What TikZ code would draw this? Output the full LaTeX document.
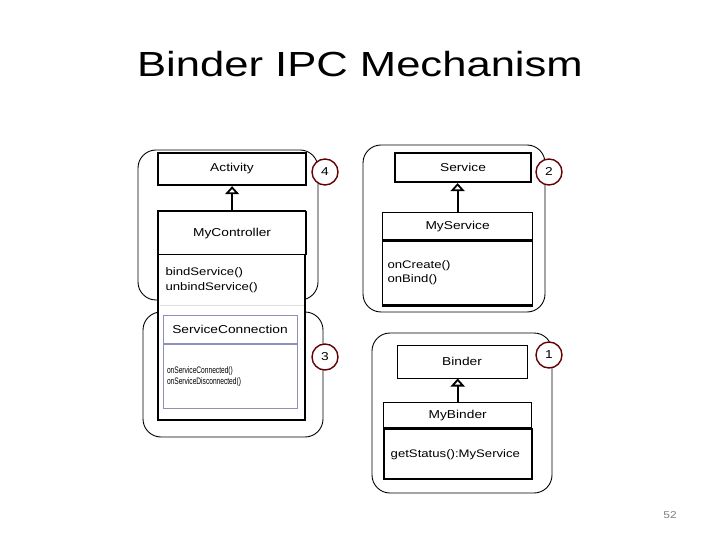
\documentclass[tikz,border=0pt]{standalone}
\usepackage{fontspec}
\setmainfont{Liberation Sans}[FakeStretch=1.2]
\newfontfamily\titlefont{Liberation Sans}[FakeStretch=1.25]
\newfontfamily\narrowfont{Liberation Sans}[FakeStretch=0.7]
\usetikzlibrary{arrows.meta,positioning}

\begin{document}
\begin{tikzpicture}[x=1bp, y=-1bp,
    group/.style={draw, line width=0.9pt, rounded corners=18bp},
    cls/.style={draw, fill=white, inner sep=0pt, font=\fontsize{11.5}{13}\selectfont},
    ops/.style={draw, fill=white, inner xsep=7bp, align=left, font=\fontsize{11}{15}\selectfont},
    num/.style={circle, draw=red!40!black, line width=1.4pt, fill=white, minimum size=26bp,
        inner sep=0pt, font=\fontsize{11.5}{13}\selectfont},
    inherit/.style={-{Triangle[open, width=14bp, length=8bp]}, line width=1.8pt}]
    \useasboundingbox (0,0) rectangle (720,540);

    % title
    \node[anchor=base, font=\titlefont\fontsize{35}{40}\selectfont] (title) at (360,77) {Binder IPC Mechanism};

    % groups
    \draw[group] (138,150) rectangle (318,300);
    \draw[group] (143,312) rectangle (323,437);
    \draw[group] (363,145) rectangle (545,312);
    \draw[group] (372,333) rectangle (552,493);

    % left: Activity / MyController / ServiceConnection
    \node[cls, line width=2.4pt, minimum width=148bp, minimum height=32bp] (activity) at (232,169) {Activity};
    \coordinate (ctrlbottom) at (231,420);
    \draw[line width=2.4pt, fill=white] (158,211) rectangle (ctrlbottom -| 305,0);
    \node[cls, line width=1.2pt, minimum width=147bp, minimum height=43bp, anchor=north west] (myctrl) at (158,211) {MyController};
    \node[ops, draw=none, fill=none, text width=133bp, minimum height=50bp, anchor=north] (myctrlops) at (myctrl.south) {bindService()\\unbindService()};
    \draw[gray!25, line width=1pt] ([xshift=1.5bp]myctrlops.south west) -- ([xshift=-1.5bp]myctrlops.south east);
    \draw[line width=2.4pt] (myctrl.north west) -- (myctrl.south west) (myctrl.north east) -- (myctrl.south east);
    \draw[inherit] (myctrl.north) -- (myctrl.north |- activity.south);

    \node[cls, draw=blue!25!gray!70, line width=1pt, minimum width=134bp, minimum height=28bp, anchor=north] (svcconn) at (230,315) {ServiceConnection};
    \node[ops, draw=blue!25!gray!70, line width=1pt, inner xsep=4bp, text width=126bp, minimum height=64bp, anchor=north,
        font=\narrowfont\fontsize{9.5}{11.5}\selectfont] (svcconnops) at (svcconn.south) {onServiceConnected()\\onServiceDisconnected()};

    % right: Service / MyService
    \node[cls, line width=2.2pt, minimum width=136bp, minimum height=29bp] (service) at (463,167.5) {Service};
    \node[cls, line width=1.2pt, minimum width=150bp, minimum height=27bp, anchor=north west] (myservice) at (382,212) {MyService};
    \node[ops, line width=1.4pt, inner xsep=5bp, text width=140bp, minimum height=64bp, anchor=north, font=\fontsize{11}{14}\selectfont] (myserviceops) at (myservice.south) {onCreate()\\onBind()};
    \draw[line width=2.2pt] (myserviceops.south west) -- (myserviceops.south east);
    \draw[inherit] (myservice.north) -- (myservice.north |- service.south);

    % right: Binder / MyBinder
    \node[cls, line width=1pt, minimum width=130bp, minimum height=33bp] (binder) at (462,361.5) {Binder};
    \node[cls, line width=1.4pt, minimum width=148bp, minimum height=25bp, anchor=north west] (mybinder) at (383,402) {MyBinder};
    \node[ops, line width=1.8pt, text width=134bp, minimum height=50bp, anchor=north] (mybinderops) at (mybinder.south) {getStatus():MyService};
    \draw[inherit] (mybinder.north) -- (mybinder.north |- binder.south);

    % numbers
    \node[num] (n4) at (325,172) {4};
    \node[num] (n2) at (549,172) {2};
    \node[num] (n3) at (325,357) {3};
    \node[num] (n1) at (549,355) {1};

    % page number
    \node[text=gray, font=\fontsize{10}{12}\selectfont] (pagenum) at (670,515) {52};
\end{tikzpicture}
\end{document}
